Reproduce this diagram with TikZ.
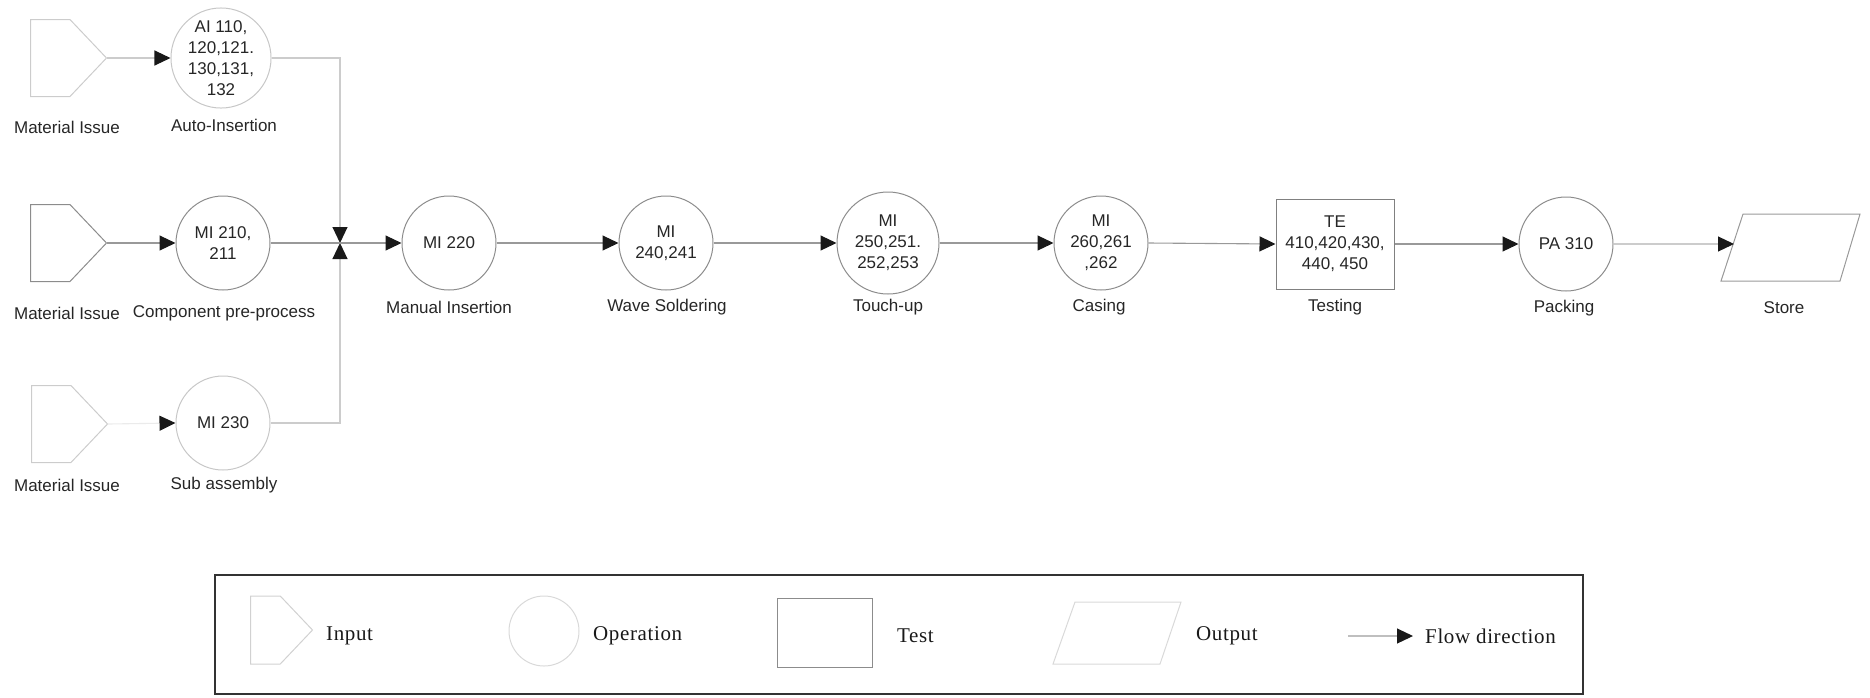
\documentclass[tikz,border=0pt]{standalone}
\usepackage{fontspec}
\setmainfont{Liberation Sans}
\newfontfamily\legendfont[LetterSpace=3]{Liberation Serif}
\usetikzlibrary{arrows.meta,shapes.symbols}

\begin{document}
\begin{tikzpicture}[x=1pt,y=-1pt,
  every node/.style={font=\fontsize{17}{21}\selectfont, text=black!85},
  op/.style={circle, draw=black!45, line width=1pt, minimum size=94pt, inner sep=0pt, align=center},
  faintop/.style={op, draw=black!22},
  inbox/.style={signal, signal to=east, signal pointer angle=93, draw=black!45, line width=1pt,
                minimum width=76pt, minimum height=77pt, inner sep=0pt, anchor=west},
  faintin/.style={inbox, draw=black!20},
  testbox/.style={rectangle, draw=black!50, line width=1pt, minimum width=118pt, minimum height=90pt, inner sep=0pt, align=center},
  flow/.style={draw=black!40, line width=1.1pt, -{Triangle[length=16pt,width=15pt,color=black!90]}},
  faintflow/.style={flow, draw=black!20},
  lbl/.style={inner sep=0pt},
  legtxt/.style={inner sep=0pt, anchor=west, font=\legendfont\fontsize{21}{24}\selectfont, text=black!90}
]
\useasboundingbox (0,0) rectangle (1870,697);

% raw material inputs
\node[faintin] (in1) at (30,58) {};
\node[inbox]   (in2) at (30,243) {};
\node[faintin] (in3) at (31,424) {};

% feeding operations
\node[faintop] (c1) at (221,58) {AI 110,\\120,121.\\130,131,\\132};
\node[op]      (c2) at (223,243) {MI 210,\\211};
\node[faintop] (c3) at (223,423) {MI 230};

\node[lbl] at (67,127) {Material Issue};
\node[lbl] at (67,313) {Material Issue};
\node[lbl] at (67,485) {Material Issue};
\node[lbl] at (224,125) {Auto-Insertion};
\node[lbl] at (224,313) {Component pre-process};
\node[lbl] at (224,485) {Sub assembly};

\draw[faintflow] (in1.east) -- (c1.west |- in1.east);
\draw[flow] (in2.east) -- (c2.west);
\draw[flow, draw=black!8] (in3.east) -- (c3.west);

% merge point
\coordinate (j) at (340,243);
\draw[faintflow] (c1.east) -| (j);
\draw[faintflow] (c3.east) -| (j);

% main line
\node[op] (mi220)  at (449,243) {MI 220};
\node[op] (wave)   at (666,243) {MI\\240,241};
\node[op, minimum size=102pt] (touch) at (888,243) {MI\\250,251.\\252,253};
\node[op] (casing) at (1101,243) {MI\\260,261\\,262};
\node[testbox] (test) at (1335,244) {TE\\410,420,430,\\440, 450};
\node[op] (pack)   at (1566,244) {PA 310};

\coordinate (s1) at (1721,281);
\coordinate (s2) at (1743,214);
\coordinate (s3) at (1860,214);
\coordinate (s4) at (1840,281);
\draw[draw=black!40, line width=1pt] (s1) -- (s2) -- (s3) -- (s4) -- cycle;
\coordinate (store) at (1734,244);

\node[lbl] at (449,307) {Manual Insertion};
\node[lbl] at (667,307) {Wave Soldering};
\node[lbl] at (888,307) {Touch-up};
\node[lbl] at (1099,307) {Casing};
\node[lbl] at (1335,307) {Testing};
\node[lbl] at (1564,308) {Packing};
\node[lbl] at (1784,308) {Store};

\draw[flow] (c2.east) -- (mi220.west);
\draw[flow] (mi220.east) -- (wave.west);
\draw[flow] (wave.east) -- (touch.west);
\draw[flow] (touch.east) -- (casing.west);
\draw[flow] (casing.east) -- (test.west);
\draw[flow] (test.east) -- (pack.west);
\draw[faintflow] (pack.east) -- (store);

% legend
\node[draw=black!80, line width=1.4pt, minimum width=1368pt, minimum height=119pt, inner sep=0pt] (legend) at (899,634.5) {};
\node[inbox, draw=black!18, minimum width=62pt, minimum height=68pt] (lin) at (250,630) {};
\node[legtxt] (linT) at (326,636) {Input};
\node[op, draw=black!15, minimum size=70pt] (lop) at (544,631) {};
\node[legtxt] (lopT) at (593,636) {Operation};
\node[rectangle, draw=black!45, line width=1pt, minimum width=95pt, minimum height=69pt] (lte) at (825,633) {};
\node[legtxt] (lteT) at (897,636) {Test};
\coordinate (o1) at (1053,664);
\coordinate (o2) at (1075,602);
\coordinate (o3) at (1181,602);
\coordinate (o4) at (1160,664);
\draw[draw=black!15, line width=1pt] (o1) -- (o2) -- (o3) -- (o4) -- cycle;
\node[legtxt] (loutT) at (1196,636) {Output};
\coordinate (fa) at (1348,636);
\coordinate (fb) at (1413,636);
\draw[flow, draw=black!25] (fa) -- (fb);
\node[legtxt] (lflT) at (1425,636) {Flow direction};
\end{tikzpicture}
\end{document}
